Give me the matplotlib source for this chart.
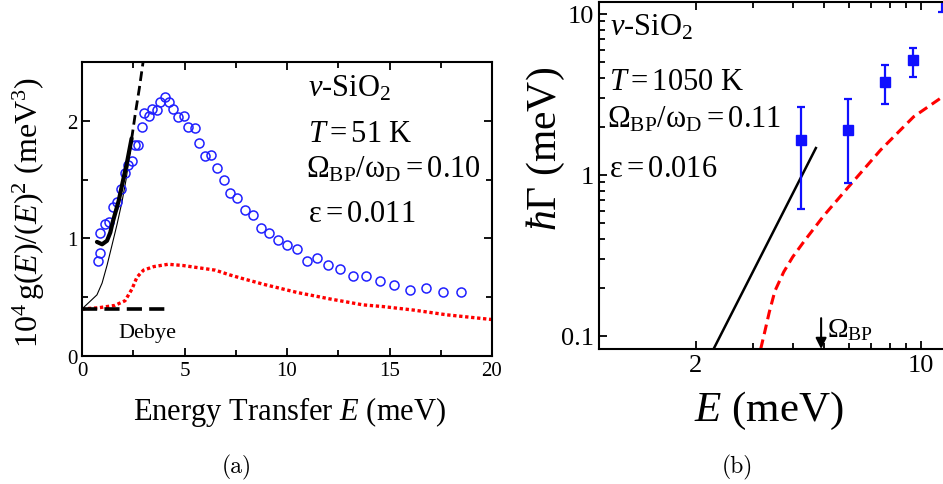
import numpy as np
import matplotlib
matplotlib.use("Agg")
import matplotlib.pyplot as plt

plt.rcParams['font.family'] = ['Liberation Serif', 'DejaVu Serif']
plt.rcParams['mathtext.fontset'] = 'custom'
plt.rcParams['mathtext.rm'] = 'Liberation Serif'
plt.rcParams['mathtext.it'] = 'Liberation Serif:italic'
plt.rcParams['mathtext.bf'] = 'Liberation Serif:bold'

# ---- panel (a): reduced density of states, T = 51 K ----
E_data = np.array([0.78, 0.89, 0.89, 1.11, 1.30, 1.53, 1.69, 1.90, 2.10, 2.26, 2.42,
                   2.59, 2.75, 2.91, 3.04, 3.25, 3.41, 3.66, 3.82, 4.03, 4.26, 4.44,
                   4.68, 4.96, 5.17, 5.50, 5.69, 6.01, 6.31, 6.59, 6.91, 7.23, 7.56,
                   7.95, 8.33, 8.72, 9.14, 9.58, 10.01, 10.50, 10.99, 11.48, 12.01,
                   12.59, 13.23, 13.84, 14.54, 15.22, 16.00, 16.78, 17.59, 18.49])
g_data = np.array([0.81, 0.88, 1.05, 1.12, 1.14, 1.27, 1.31, 1.42, 1.56, 1.62, 1.66,
                   1.79, 1.79, 1.95, 2.07, 2.04, 2.10, 2.09, 2.16, 2.20, 2.16, 2.10,
                   2.03, 2.04, 1.95, 1.94, 1.81, 1.70, 1.71, 1.60, 1.50, 1.39, 1.34,
                   1.24, 1.20, 1.09, 1.05, 0.99, 0.94, 0.91, 0.81, 0.83, 0.77,
                   0.74, 0.68, 0.68, 0.64, 0.60, 0.56, 0.58, 0.54, 0.54])

E_fit = [0.73, 0.98, 1.22, 1.38, 1.50, 1.63, 1.79, 1.95, 2.20, 2.42]
g_fit = [0.97, 0.95, 0.98, 1.05, 1.14, 1.22, 1.32, 1.45, 1.65, 1.85]

E_thin = [0.0, 0.73, 0.98, 1.22, 1.46, 1.71, 1.95, 2.15, 2.40]
g_thin = [0.40, 0.52, 0.62, 0.77, 0.94, 1.12, 1.31, 1.50, 1.80]

E_steep = [2.30, 2.45, 2.60, 2.80, 2.98]
g_steep = [1.72, 1.88, 2.06, 2.28, 2.50]

E_debye = [0.0, 4.3]
g_debye = [0.40, 0.40]

E_theo = [0, 0.8, 1.6, 2.1, 2.44, 2.68, 3.0, 3.5, 4.2, 4.9, 5.7, 6.5, 7.2, 7.8,
          8.85, 10.5, 12.1, 13.7, 14.7, 16.2, 17.8, 20.0]
g_theo = [0.40, 0.41, 0.43, 0.47, 0.57, 0.67, 0.73, 0.76, 0.78, 0.77, 0.75, 0.73,
          0.69, 0.66, 0.61, 0.54, 0.485, 0.435, 0.42, 0.39, 0.35, 0.31]

# ---- panel (b): damping, T = 1050 K ----
E_gam = [4.24, 5.92, 7.72, 9.45, 11.6]
gam = [1.65, 1.90, 3.78, 5.18, 13.5]
gam_lo = [0.615, 0.89, 2.76, 4.06, 10.3]
gam_hi = [2.64, 2.96, 4.83, 6.16, 15.0]

E_line = [2.27, 4.72]
gam_line = [0.083, 1.47]

E_red = [3.18, 3.27, 3.38, 3.52, 3.75, 4.0, 4.35, 5.0, 5.92, 7.5, 9.5, 11.8]
gam_red = [0.083, 0.105, 0.14, 0.19, 0.25, 0.31, 0.39, 0.56, 0.83, 1.43, 2.3, 3.1]

omega_bp = 4.9

W, H = 943, 485
fig = plt.figure(figsize=(W / 100, H / 100), dpi=100)

def fx(px):
    return px / W

def fy(py):
    return 1 - py / H

# panel (a)
ax = fig.add_axes([fx(82), fy(357), (492 - 82) / W, (357 - 63) / H])
ax.plot(E_theo, g_theo, color='red', lw=2.4, dashes=(1.0, 0.8), dash_capstyle='butt')
ax.plot(E_debye, g_debye, color='black', lw=2.6, dashes=(4.2, 2.0))
ax.plot(E_thin, g_thin, color='black', lw=0.8)
ax.plot(E_data, g_data, 'o', mfc='none', mec='#2020ff', ms=6.5, mew=1.1)
ax.plot(E_fit, g_fit, color='black', lw=3.0, solid_capstyle='round')
ax.plot(E_steep, g_steep, color='black', lw=2.0, dashes=(3.5, 1.8))
ax.set_xlim(0, 20)
ax.set_ylim(0, 2.5)
ax.set_xticks([0, 5, 10, 15, 20])
ax.set_xticks([2.5, 7.5, 12.5, 17.5], minor=True)
ax.set_yticks([0, 1, 2])
ax.set_yticks([0.5, 1.5], minor=True)
ax.tick_params(which='both', direction='in', top=True, right=True, width=1.3, labelsize=15)
ax.tick_params(which='major', length=6)
ax.tick_params(which='minor', length=4)
for s in ax.spines.values():
    s.set_linewidth(1.5)
ax.set_xlabel(r'Energy Transfer $E$ (meV)', fontsize=22)
ax.set_ylabel(r'$10^4\,\mathrm{g}(E)/(E)^2\ (\mathrm{meV}^{3})$', fontsize=23)
ax.xaxis.set_label_coords(0.506, -0.13)
ax.yaxis.set_label_coords(-0.085, 0.49)
ax.text(3.2, 0.16, 'Debye', fontsize=16, ha='center')

fig.text(fx(308), fy(97), r'$v$-SiO$_2$', fontsize=22, va='baseline')
fig.text(fx(308), fy(142), r'$T = 51\ \mathrm{K}$', fontsize=22, va='baseline')
fig.text(fx(306), fy(177), r'$\mathrm{\Omega_{BP}/\omega_D = 0.10}$', fontsize=22, va='baseline')
fig.text(fx(308), fy(222), r'$\mathrm{\varepsilon = 0.011}$', fontsize=22, va='baseline')

# panel (b)
bx = fig.add_axes([fx(599), fy(350), 353 / W, (350 - 3) / H])
bx.set_xscale('log')
bx.set_yscale('log')
bx.plot(E_red, gam_red, color='red', lw=2.2, dashes=(3.2, 1.8))
bx.plot(E_line, gam_line, color='black', lw=1.8)
yerr = [np.array(gam) - np.array(gam_lo), np.array(gam_hi) - np.array(gam)]
bx.errorbar(E_gam, gam, yerr=yerr, fmt='s', color='#1010ff', ms=7.5,
            elinewidth=1.6, capsize=3, capthick=1.6)
bx.set_xlim(1, 12.5)
bx.set_ylim(0.083, 11.87)
bx.set_xticks([2, 10])
bx.set_xticklabels(['2', '10'])
bx.set_xticks([1, 3, 4, 5, 6, 7, 8, 9], minor=True)
bx.set_xticklabels([], minor=True)
bx.set_yticks([0.1, 1, 10])
bx.set_yticklabels(['0.1', '1', '10'])
bx.set_yticks([v * d for d in (0.1, 1) for v in range(2, 10)], minor=True)
bx.set_yticklabels([], minor=True)
bx.tick_params(which='both', direction='in', top=True, right=True, width=1.3, labelsize=19)
bx.tick_params(which='major', length=6)
bx.tick_params(which='minor', length=4)
for s in bx.spines.values():
    s.set_linewidth(1.5)
bx.set_xlabel(r'$E$ (meV)', fontsize=31)
bx.set_ylabel(r'$\hbar\Gamma$ (meV)', fontsize=30)
bx.xaxis.set_label_coords(0.48, -0.115)
bx.yaxis.set_label_coords(-0.09, 0.58)
bx.annotate('', xy=(omega_bp, 0.083), xytext=(omega_bp, 0.129),
            arrowprops=dict(arrowstyle='-|>', color='black', lw=1.5,
                            mutation_scale=16, shrinkA=0, shrinkB=0))
bx.text(omega_bp * 1.04, 0.1, r'$\mathrm{\Omega_{BP}}$', fontsize=20, va='baseline')

fig.text(fx(610), fy(35), r'$v$-SiO$_2$', fontsize=22, va='baseline')
fig.text(fx(609), fy(90), r'$T = 1050\ \mathrm{K}$', fontsize=22, va='baseline')
fig.text(fx(607), fy(128), r'$\mathrm{\Omega_{BP}/\omega_D = 0.11}$', fontsize=22, va='baseline')
fig.text(fx(609), fy(177), r'$\mathrm{\varepsilon = 0.016}$', fontsize=22, va='baseline')

fig.text(fx(237), fy(467), '(a)', family='cmr10', fontsize=17, ha='center', va='center')
fig.text(fx(737), fy(467), '(b)', family='cmr10', fontsize=17, ha='center', va='center')

fig.savefig('out.png', dpi=100)
